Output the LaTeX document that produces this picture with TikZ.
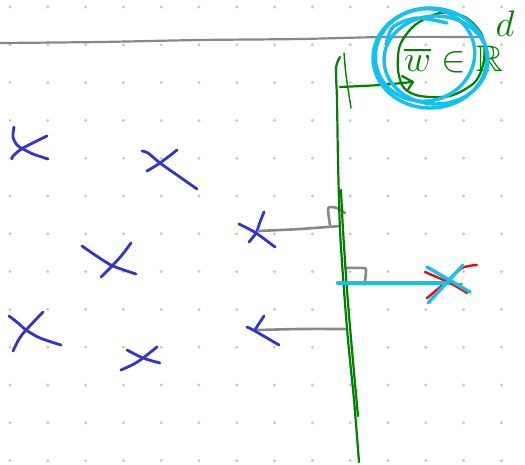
\RequirePackage{fix-cm}
\documentclass[tikz,border=0pt]{standalone}
\usepackage{amsmath,amssymb}
\usepackage{xcolor}
\usepackage{tikz}

\definecolor{penblue}{RGB}{52,52,200}
\definecolor{pengreen}{RGB}{0,128,0}
\definecolor{pencyan}{RGB}{20,192,240}
\definecolor{penred}{RGB}{228,16,16}
\definecolor{pengray}{RGB}{136,136,136}

\begin{document}
\begin{tikzpicture}[x=1pt, y=-1pt, line cap=round, line join=round,
    gdot/.style={fill=gray!45},
    bluepen/.style={draw=penblue, line width=2.8pt},
    greenpen/.style={draw=pengreen, line width=2.2pt},
    graypen/.style={draw=pengray, line width=2.6pt},
    cyanpen/.style={draw=pencyan, line width=3.4pt},
    redpen/.style={draw=penred, line width=2.4pt}]
  \useasboundingbox (0,0) rectangle (525,464);
  \fill[white] (0,0) rectangle (525,464);
  % dotted paper
  \foreach \i in {0,...,13}
    \foreach \j in {0,...,12}
      \fill[gdot] (10+37.8*\i, 7+37.8*\j) circle (1.6);
  % top line
  \draw[graypen, line width=2.2pt] plot[smooth] coordinates {(0,43) (100,42) (200,40) (300,39) (385,37) (480,37)};
  % data points
  \draw[bluepen] plot[smooth] coordinates {(14,127) (13,137) (17,145) (23,149) (33,154) (48,159)};
  \draw[bluepen] plot[smooth] coordinates {(12,159) (13,156) (23,148) (47,136)};
  \draw[bluepen] plot[smooth] coordinates {(142,151) (148,153) (160,163) (177,175) (197,189)};
  \draw[bluepen] plot[smooth] coordinates {(147,171) (160,163) (177,150)};
  \draw[bluepen] plot[smooth] coordinates {(82,246) (98,257) (113,266) (136,274)};
  \draw[bluepen] plot[smooth] coordinates {(101,277) (113,265) (122,255) (131,243)};
  \draw[bluepen] plot[smooth] coordinates {(9,316) (18,323) (26,330) (40,338) (61,345)};
  \draw[bluepen] plot[smooth] coordinates {(13,351) (19,339) (26,330) (43,312)};
  \draw[bluepen] plot[smooth] coordinates {(127,350) (143,358) (160,363)};
  \draw[bluepen] plot[smooth] coordinates {(121,370) (134,364) (143,358) (157,347)};
  \draw[bluepen] plot[smooth] coordinates {(239,224) (256,233) (275,247)};
  \draw[bluepen] plot[smooth] coordinates {(264,212) (260,222) (256,233) (249,242)};
  \draw[bluepen] plot[smooth] coordinates {(247,327) (255,331) (279,345)};
  \draw[bluepen] plot[smooth] coordinates {(264,316) (258,325) (255,330)};
  % distances to the hyperplane
  \draw[graypen] plot[smooth] coordinates {(258,231) (300,229) (340,226)};
  \draw[graypen] plot[smooth] coordinates {(258,330) (300,329) (345,329)};
  \draw[graypen] plot[smooth] coordinates {(330,225) (328,210) (330,207) (337,208) (345,213)};
  \draw[graypen] plot[smooth] coordinates {(345,268) (363,268) (366,270) (365,281)};
  \draw[graypen] (345,284) -- (462,284);
  % hyperplane
  \draw[greenpen] plot[smooth] coordinates {(340,57) (336,68) (337,100) (338,160) (340,230) (344,290) (348,340) (354,400) (359,462)};
  \draw[greenpen] plot[smooth] coordinates {(341,190) (343,230) (347,290) (352,350) (358,416)};
  \draw[greenpen, line width=1.4pt] plot[smooth] coordinates {(344,53) (346,75) (351,108)};
  \draw[greenpen] plot[smooth] coordinates {(340,87) (380,85) (412,82)};
  \draw[greenpen] (402,76) -- (413,82) -- (407,91);
  % new point
  \draw[redpen] plot[smooth] coordinates {(425,272) (450,283) (467,293)};
  \draw[redpen] plot[smooth] coordinates {(427,298) (445,283) (462,268) (477,265)};
  \draw[cyanpen, line width=4.2pt] (338,283) -- (448,283);
  \draw[cyanpen] (427,267) -- (470,292);
  \draw[cyanpen] (428,303) -- (463,265);
  % normal vector
  \node[pengreen, anchor=base west, inner sep=0pt, font=\fontsize{37}{42}\selectfont]
    (wlabel) at (404,71) {$\overline{w}\in\mathbb{R}^{\kern-0.2em\raisebox{0.58em}{$d$}}$};
  \draw[greenpen] plot[smooth cycle] coordinates {(398,70) (400,45) (415,25) (440,13) (465,17) (482,35) (484,60) (475,82) (450,96) (420,96) (404,88)};
  \draw[cyanpen] (430,58) ellipse [x radius=57, y radius=50];
  \draw[cyanpen, rotate around={15:(425,55)}] (425,55) ellipse [x radius=50, y radius=46];
  \draw[cyanpen] (436,60) ellipse [x radius=52, y radius=44];
  \draw[cyanpen] plot[smooth] coordinates {(386,45) (393,27) (417,18) (447,23)};
\end{tikzpicture}
\end{document}
